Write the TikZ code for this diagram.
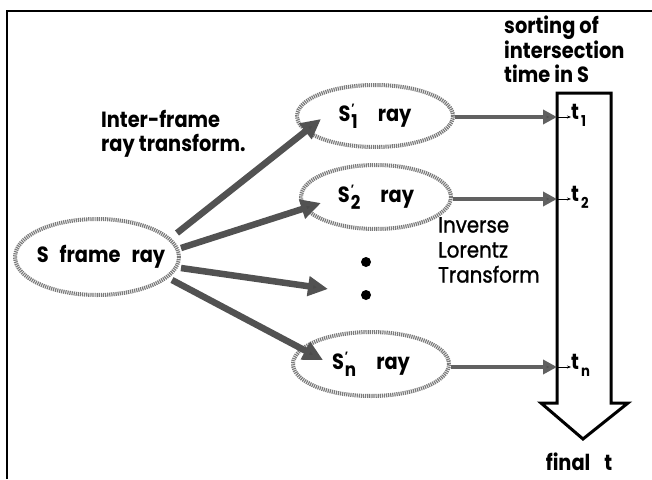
\documentclass[tikz,border=0pt]{standalone}
\usepackage{fontspec}
\setmainfont{Poppins}[FakeStretch=0.88]
\newfontfamily\medfont{Poppins}[FakeStretch=0.9, FakeBold=1.2]
\usetikzlibrary{arrows.meta,shapes.geometric,calc}
\newcommand{\prsub}[1]{S\kern1pt\raisebox{-0.6ex}{\begin{tabular}[b]{@{}l@{}}\fontsize{12}{8}\selectfont '\\[-8pt]\fontsize{19}{19}\selectfont #1\end{tabular}}}
\newcommand{\tsub}[1]{t\kern2pt\raisebox{-0.55ex}{\fontsize{15}{15}\selectfont #1}}
\tikzset{
  raynode/.style={ellipse, draw=black!52, line width=4pt, dash pattern=on 1.2pt off 0.9pt, inner sep=0pt, font=\fontsize{22}{24}\selectfont\bfseries},
  bigarrow/.style={draw=black!68, line width=6.5pt, -{Triangle[width=19pt,length=20pt,fill=black!70]}},
  smallarrow/.style={draw=black!62, line width=4pt, -{Triangle[width=14pt,length=14pt,fill=black!68]}},
  tinyarrow/.style={draw=black, line width=0.6pt, -{Stealth[length=4pt,width=3pt]}},
  lbl/.style={font=\fontsize{22}{24.5}\selectfont\bfseries, align=left, inner sep=0pt},
  rlbl/.style={font=\fontsize{22}{25}\selectfont\medfont, align=left, inner sep=0pt},
  dot/.style={circle, fill=black, inner sep=0pt, minimum size=10pt},
  boxarrow/.style={draw=black, line width=3pt, fill=white, line join=miter}
}
\begin{document}
\begin{tikzpicture}[x=1pt,y=-1pt]
\useasboundingbox (0,0) rectangle (652,479);
% frame
\draw[line width=2pt] (7,479) -- (7,11) -- (652,11);
% big sorting arrow
\draw[boxarrow] (557,93) -- (611,93) -- (611,403) -- (628,403) -- (583,439) -- (541,403) -- (557,403) -- cycle;
\coordinate (e1) at (557,117);
\coordinate (e2) at (557,199);
\coordinate (en) at (557,367);
% ellipses
\node[raynode, minimum width=164pt, minimum height=76pt] (S) at (97,257) {\makebox[100pt][c]{\hspace*{8pt}S\hspace{11pt}frame\hspace{11pt}ray}};
\node[raynode, minimum width=156pt, minimum height=62pt] (S1) at (375,116) {\makebox[80pt][c]{\prsub{1}\hspace{20pt}ray}};
\node[raynode, minimum width=150pt, minimum height=64pt] (S2) at (376,197) {\makebox[80pt][c]{\prsub{2}\hspace{20pt}ray}};
\node[raynode, minimum width=156pt, minimum height=64pt] (Sn) at (371,364) {\makebox[80pt][c]{\prsub{n}\hspace{20pt}ray}};
% dots
\node[dot] (d1) at (366,262) {};
\node[dot] (d2) at (366,295) {};
% arrows from S
\coordinate (s1) at ($(S.east)+(-4,-24)$);
\coordinate (s2) at ($(S.east)+(0,-9)$);
\coordinate (s3) at ($(S.east)+(0,11)$);
\coordinate (s4) at ($(S.east)+(-9,23)$);
\coordinate (a1) at ($(S1.west)+(26,3)$);
\coordinate (a2) at ($(S2.west)+(22,6)$);
\coordinate (a3) at (328,289);
\coordinate (a4) at ($(Sn.west)+(32,-4)$);
\draw[bigarrow] (s1) -- (a1);
\draw[bigarrow] (s2) -- (a2);
\draw[bigarrow] (s3) -- (a3);
\draw[bigarrow] (s4) -- (a4);
% horizontal arrows
\draw[smallarrow] (S1.east |- e1) -- (e1);
\draw[smallarrow] (S2.east |- e2) -- (e2);
\draw[smallarrow] (Sn.east |- en) -- (en);
% t labels
\node[lbl, anchor=west] (t1) at (571,115) {\tsub{1}};
\node[lbl, anchor=west] (t2) at (571,197) {\tsub{2}};
\node[lbl, anchor=west] (tn) at (571,365) {\tsub{n}};
\draw[tinyarrow] (e1) -- (t1.west |- e1);
\draw[tinyarrow] (e2) -- (t2.west |- e2);
\draw[tinyarrow] (en) -- (tn.west |- en);
% texts
\node[lbl, anchor=north west] (sort) at (504,16) {sorting of\\intersection\\time in S};
\node[lbl, anchor=north west] (inter) at (101,110) {Inter-frame\\ray transform.};
\node[rlbl, anchor=north west] (inv) at (438,217) {Inverse\\Lorentz\\Transform};
\node[lbl] (final) at (579,462) {final\hspace{14pt}t};
\end{tikzpicture}
\end{document}
